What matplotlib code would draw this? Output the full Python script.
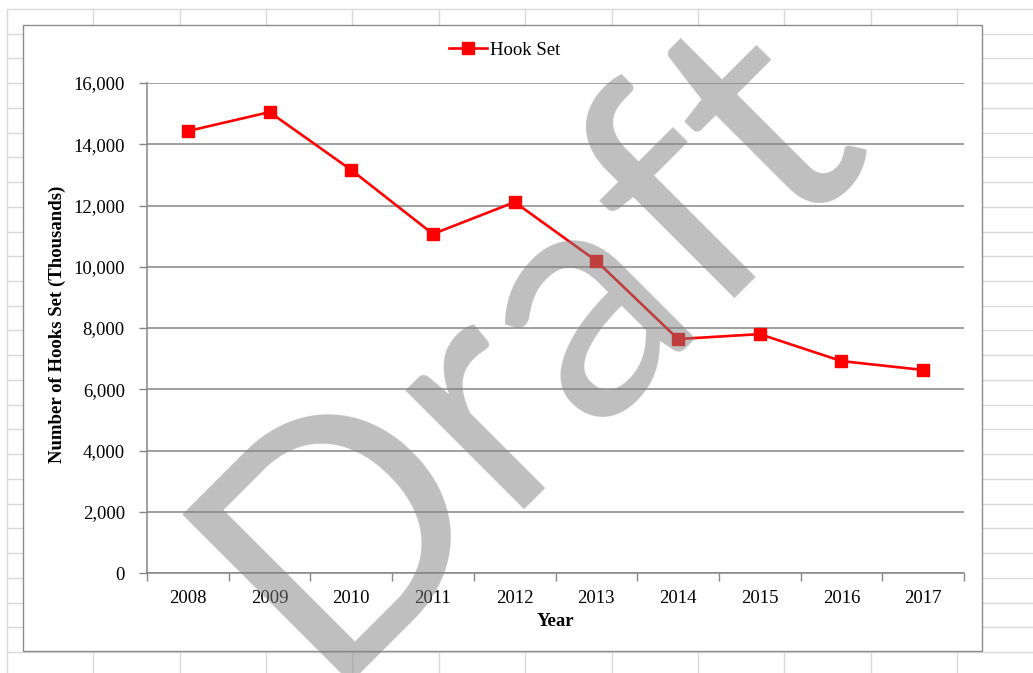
import matplotlib
matplotlib.use("Agg")
import matplotlib.pyplot as plt
from matplotlib.lines import Line2D
from matplotlib.patches import Rectangle
from matplotlib.transforms import IdentityTransform
from matplotlib.ticker import FuncFormatter, FixedLocator

years = ["2008", "2009", "2010", "2011", "2012", "2013", "2014", "2015", "2016", "2017"]
hooks_set = [14430, 15050, 13160, 11070, 12110, 10190, 7640, 7800, 6920, 6630]
series_name = "Hook Set"
y_ticks = [0, 2000, 4000, 6000, 8000, 10000, 12000, 14000, 16000]

W, H = 1033, 673
fig = plt.figure(figsize=(W / 100, H / 100), dpi=100)
fig.patch.set_facecolor("white")

def fx(px):
    return px / W

def fy(py):
    return 1 - py / H

# spreadsheet background grid
grid_c = "#dadada"
col_x = [7 + 86.36 * k for k in range(12)]
row_y = [9 + 24.73 * k for k in range(28)]
for x in col_x:
    fig.add_artist(Line2D([fx(x), fx(x)], [fy(9), 0], color=grid_c, lw=1.0, zorder=0))
for y in row_y:
    if y <= H:
        fig.add_artist(Line2D([fx(7), 1], [fy(y), fy(y)], color=grid_c, lw=1.0, zorder=0))

# chart area
fig.add_artist(Rectangle((fx(23), fy(651)), fx(982) - fx(23), fy(25) - fy(651),
                         facecolor="white", edgecolor="#8c8c8c", lw=1.0, zorder=1))

serif = "Liberation Serif"
ax = fig.add_axes([fx(147), fy(573), fx(964) - fx(147), fy(83) - fy(573)], zorder=2)
ax.set_facecolor("none")
x = list(range(len(years)))
ax.plot(x, hooks_set, color="#ff0000", lw=1.9, marker="s", markersize=8,
        markeredgecolor="#ff0000", markerfacecolor="#ff0000", label=series_name, zorder=3)

ax.set_xlim(-0.5, len(years) - 0.5)
ax.set_ylim(0, 16000)
ax.set_yticks(y_ticks)
ax.yaxis.set_major_formatter(FuncFormatter(lambda v, p: f"{int(v):,}"))
ax.set_xticks(x)
ax.set_xticklabels(years)
ax.xaxis.set_minor_locator(FixedLocator([i - 0.5 for i in range(len(years) + 1)]))
ax.tick_params(axis="x", which="major", length=0, pad=12)
ax.tick_params(axis="x", which="minor", length=6, color="#868686", width=1.0)
ax.tick_params(axis="y", length=6, color="#868686", width=1.0, pad=10)
for lab in ax.get_xticklabels() + ax.get_yticklabels():
    lab.set_fontfamily(serif)
    lab.set_fontsize(13.5)
    lab.set_color("black")

ax.grid(axis="y", color="#868686", lw=1.1)
ax.set_axisbelow(True)
for s in ["top", "right"]:
    ax.spines[s].set_visible(False)
for s in ["left", "bottom"]:
    ax.spines[s].set_color("#868686")
    ax.spines[s].set_linewidth(1.1)

fig.text(fx(57), fy(324), "Number of Hooks Set (Thousands)", rotation=90,
         ha="center", va="center", fontfamily=serif, fontweight="bold", fontsize=13.5)
fig.text(fx(555), fy(622), "Year", ha="center", va="center",
         fontfamily=serif, fontweight="bold", fontsize=13.5)

leg = ax.legend(loc="center", bbox_to_anchor=(fx(505), fy(50)), bbox_transform=fig.transFigure,
                frameon=False, prop={"family": serif, "size": 13.5},
                handlelength=2.0, handletextpad=0.2, markerscale=1.0)

# watermark
fig.text(320, H - 683, "Draft", transform=IdentityTransform(), rotation=45,
         rotation_mode="anchor", ha="left", va="baseline", fontsize=240,
         fontfamily="Lato", color="#808080", alpha=0.5, zorder=10)

fig.savefig("out.png", dpi=100)
